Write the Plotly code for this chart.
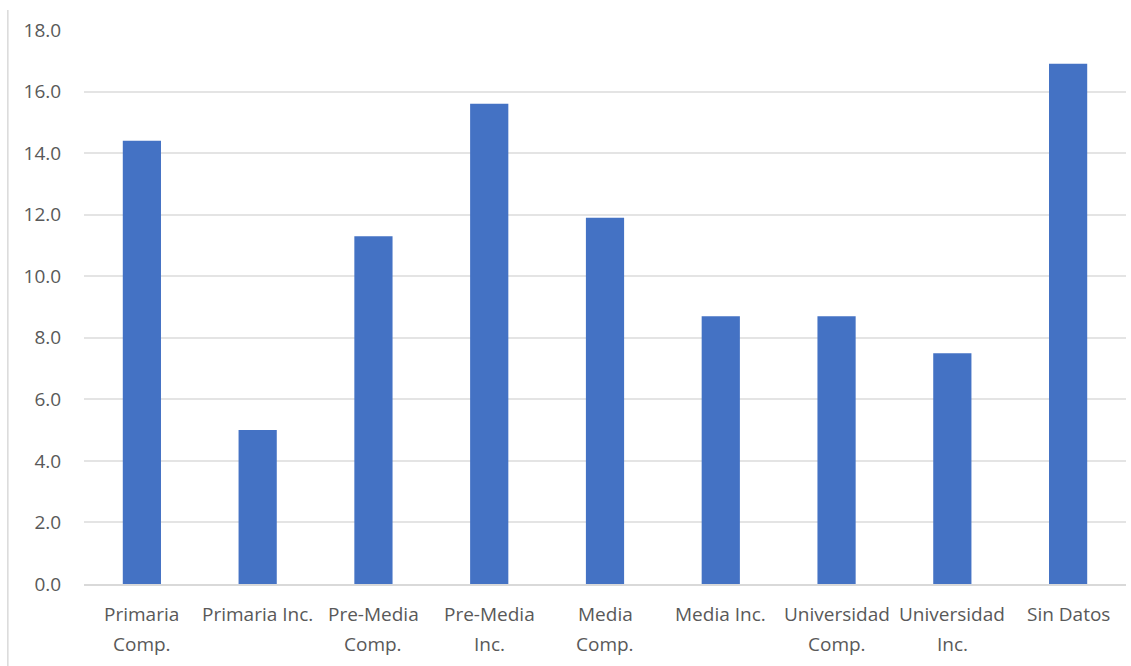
import plotly.graph_objects as go

categories = ["Primaria Comp.", "Primaria Inc.", "Pre-Media Comp.", "Pre-Media Inc.",
              "Media Comp.", "Media Inc.", "Universidad Comp.", "Universidad Inc.", "Sin Datos"]
values = [14.4, 5.0, 11.3, 15.6, 11.9, 8.7, 8.7, 7.5, 16.9]
label_line1 = ["Primaria", "Primaria Inc.", "Pre-Media", "Pre-Media", "Media",
               "Media Inc.", "Universidad", "Universidad", "Sin Datos"]
label_line2 = ["Comp.", "", "Comp.", "Inc.", "Comp.", "", "Comp.", "Inc.", ""]
y_ticks = [0, 2, 4, 6, 8, 10, 12, 14, 16, 18]

font_family = "Open Sans"
gray = "#595959"
fsize = 19

fig = go.Figure(go.Bar(x=categories, y=values, marker_color="#4472C4",
                       marker_line_width=0))

annotations = []
for c, l1, l2 in zip(categories, label_line1, label_line2):
    annotations.append(dict(x=c, xref="x", y=0, yref="paper", yanchor="top",
                            yshift=-15, text=l1, showarrow=False,
                            font=dict(family=font_family, size=fsize, color=gray)))
    if l2:
        annotations.append(dict(x=c, xref="x", y=0, yref="paper", yanchor="top",
                                yshift=-45, text=l2, showarrow=False,
                                font=dict(family=font_family, size=fsize, color=gray)))

fig.update_layout(
    width=1131, height=666,
    margin=dict(l=84, r=5, t=30, b=82),
    paper_bgcolor="white", plot_bgcolor="white",
    bargap=0.67,
    showlegend=False,
    annotations=annotations,
    xaxis=dict(showticklabels=False, showline=True, linecolor="#D9D9D9",
               linewidth=1.5, showgrid=False),
    yaxis=dict(range=[0, 18], tickvals=y_ticks,
               ticktext=[f"{v:.1f}" for v in y_ticks],
               showgrid=True, gridcolor="#E4E4E4", gridwidth=1.5,
               zeroline=False, showline=False,
               ticks="outside", ticklen=18, tickcolor="rgba(0,0,0,0)",
               tickfont=dict(family=font_family, size=fsize, color=gray)),
    shapes=[dict(type="line", xref="paper", yref="paper",
                 x0=-0.0731, x1=-0.0731, y0=-0.148, y1=1.036,
                 line=dict(color="#D9D9D9", width=1.5))],
)

fig.write_html("out.html")
